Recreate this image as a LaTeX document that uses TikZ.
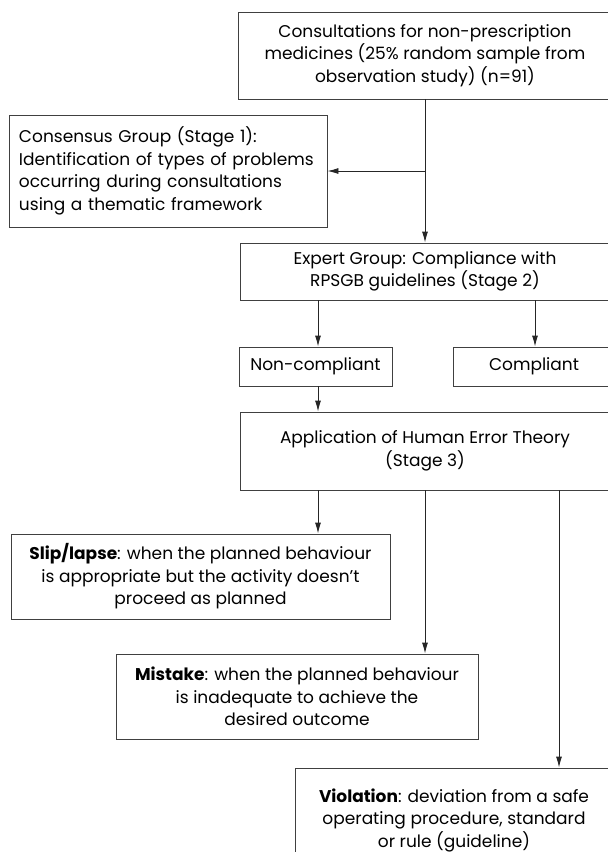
\documentclass[tikz,border=0pt]{standalone}
\usepackage{fontspec}
\setmainfont{Poppins}
\usetikzlibrary{arrows.meta}

\begin{document}
\begin{tikzpicture}[
        x=1pt, y=-1pt, % координаты в точках, ось y вниз
        box/.style={draw=black!75, line width=0.9pt, inner sep=0pt, align=center,
                font=\fontsize{17}{22.5}\selectfont}, % рамки
        arr/.style={draw=black!85, line width=0.9pt, -{Latex[length=11pt, width=6pt]}}, % стрелки
    ]
    \path[use as bounding box, clip] (0,0) rectangle (608,852);

    % блоки
    \node[box, minimum width=374pt, minimum height=87pt] (top) at (425,55.5)
        {Consultations for non-prescription\\medicines (25\% random sample from\\observation study) (n=91)};
    \node[box, align=left, text width=298pt, inner xsep=10pt, minimum height=112pt] (cons) at (168,171)
        {Consensus Group (Stage 1):\\Identification of types of problems\\occurring during consultations\\using a thematic framework};
    \node[box, minimum width=370pt, minimum height=57pt] (expert) at (425,271.5)
        {Expert Group: Compliance with\\RPSGB guidelines (Stage 2)};
    \node[box, minimum width=153pt, minimum height=39pt] (noncomp) at (315.5,366.5) {Non-compliant};
    \node[box, minimum width=162pt, minimum height=39pt] (comp) at (534,366.5) {Compliant};
    \node[box, minimum width=370pt, minimum height=78pt] (app) at (425,451)
        {Application of Human Error Theory\\(Stage 3)};
    \node[box, minimum width=379pt, minimum height=85pt] (slip) at (200.5,576.5)
        {\textbf{Slip/lapse}: when the planned behaviour\\is appropriate but the activity doesn’t\\proceed as planned};
    \node[box, minimum width=362pt, minimum height=85pt] (mistake) at (297,696.5)
        {\textbf{Mistake}: when the planned behaviour\\is inadequate to achieve the\\desired outcome};
    \node[box, minimum width=318pt, minimum height=104pt] (violation) at (454,820)
        {\textbf{Violation}: deviation from a safe\\operating procedure, standard\\or rule (guideline)};

    % вертикали ветвей
    \coordinate (xl) at (318,0);
    \coordinate (xr) at (535,0);
    \coordinate (xv) at (559,0);

    % связи
    \draw[arr] (top) -- (expert);
    \draw[arr] (top.south |- cons.east) -- (cons.east);
    \draw[arr] (expert.south -| xl) -- (noncomp.north -| xl);
    \draw[arr] (expert.south -| xr) -- (comp.north -| xr);
    \draw[arr] (noncomp.south -| xl) -- (app.north -| xl);
    \draw[arr] (app.south -| xl) -- (slip.north -| xl);
    \draw[arr] (app.south) -- (app.south |- mistake.north);
    \draw[arr] (app.south -| xv) -- (violation.north -| xv);
\end{tikzpicture}
\end{document}
